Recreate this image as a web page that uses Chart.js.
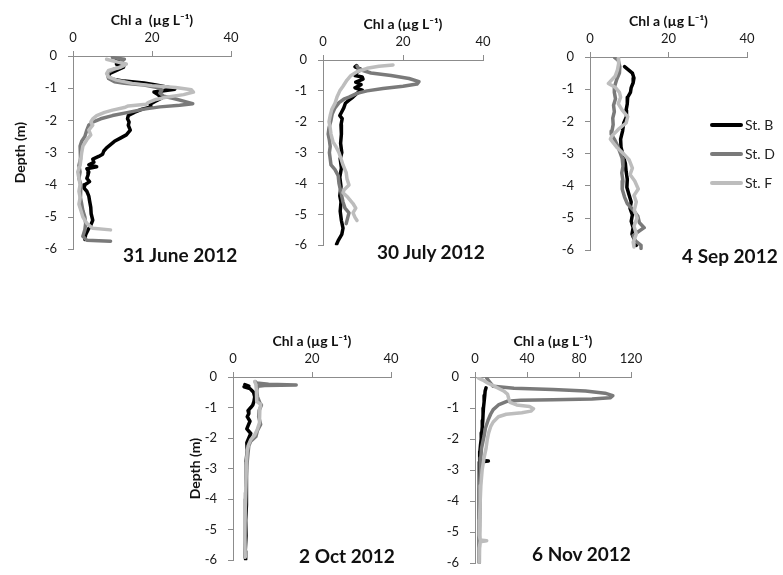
<!DOCTYPE html>
<html lang="en">
<head>
<meta charset="UTF-8">
<title>Chl a depth profiles 2012</title>
<script src="https://cdn.jsdelivr.net/npm/chart.js"></script>
<style>
    body {
        margin: 0;
        background: #fff;
        font-family: Lato, "Open Sans", sans-serif;
    }
    #wrap {
        position: relative;
        width: 783px;
        height: 575px;
        overflow: hidden;
    }
    #wrap canvas {
        position: absolute;
    }
    .date {
        position: absolute;
        font-weight: bold;
        font-size: 19px;
        line-height: 19px;
        color: #111;
        white-space: nowrap;
    }
    .legend {
        position: absolute;
        left: 710px;
        top: 110px;
        font-size: 14px;
        color: #222;
    }
    .legend div {
        height: 29px;
        display: flex;
        align-items: center;
    }
    .legend .ln {
        display: inline-block;
        width: 33px;
        height: 4px;
        border-radius: 2px;
        margin-right: 2px;
    }
</style>
</head>
<body>
<div id="wrap"></div>

<script>
    // stations and their line colours
    const stations = ['St. B', 'St. D', 'St. F'];
    const colors = ['#000000', '#7a7a7a', '#bdbdbd'];

    const depthTicks = [0, -1, -2, -3, -4, -5, -6];

    // 31 June 2012
    const junDepthB = [-0.1, -0.15, -0.25, -0.35, -0.45, -0.55, -0.65, -0.72, -0.78, -0.84, -0.9, -0.97, -1.03, -1.08, -1.12, -1.2, -1.3, -1.4, -1.5, -1.58, -1.65, -1.75, -1.85, -1.95, -2.05, -2.15, -2.3, -2.45, -2.55, -2.65, -2.75, -2.85, -2.95, -3.05, -3.12, -3.2, -3.3, -3.38, -3.44, -3.5, -3.6, -3.7, -3.8, -3.9, -4.0, -4.1, -4.2, -4.35, -4.5, -4.7, -4.9, -5.1, -5.25, -5.4, -5.55, -5.7];
    const junChlB = [11, 12.5, 11, 12.8, 11, 9.2, 9, 10, 13, 18, 21, 24, 25.8, 23, 20.5, 21.5, 22.5, 21, 19.5, 19.8, 17.5, 15.5, 14, 13.8, 14.2, 14, 14.5, 13.5, 12, 10.5, 9.5, 8.5, 7.8, 7.5, 6.5, 5, 5.3, 4, 6, 3.5, 4, 3.8, 3.5, 4.2, 3, 2.8, 3.5, 4, 4.2, 4.5, 4.6, 5, 4.5, 3.8, 3.2, 3];
    const junDepthD = [-0.05, -0.1, -0.2, -0.3, -0.4, -0.5, -0.6, -0.7, -0.8, -0.85, -0.9, -0.97, -1.05, -1.15, -1.25, -1.32, -1.4, -1.48, -1.53, -1.58, -1.65, -1.75, -1.85, -1.95, -2.05, -2.15, -2.3, -2.5, -2.65, -2.8, -3.0, -3.2, -3.4, -3.6, -3.8, -4.0, -4.2, -4.4, -4.6, -4.8, -5.0, -5.2, -5.4, -5.6, -5.72, -5.75];
    const junChlD = [10, 13, 12, 13, 10.5, 9, 8.8, 9, 10.5, 13, 18, 21, 22.5, 22, 23, 25.5, 28, 30.3, 27, 22, 18, 14, 10, 7, 5, 4, 3.5, 3, 2.2, 1.8, 2, 1.8, 1.5, 1.8, 1.5, 2, 1.8, 2, 2.2, 2.5, 3, 3.2, 3, 2.5, 3.5, 9.5];
    const junDepthF = [-0.1, -0.15, -0.25, -0.35, -0.45, -0.55, -0.65, -0.75, -0.85, -0.92, -0.98, -1.05, -1.12, -1.2, -1.27, -1.35, -1.45, -1.5, -1.55, -1.6, -1.68, -1.75, -1.85, -1.95, -2.05, -2.15, -2.3, -2.45, -2.6, -2.8, -3.0, -3.2, -3.4, -3.6, -3.8, -4.0, -4.2, -4.4, -4.6, -4.8, -5.0, -5.2, -5.35, -5.4];
    const junChlF = [8.5, 10, 13.5, 12, 9, 8.5, 9, 11, 15, 20, 26, 30, 30.5, 28, 24, 21, 19, 18.5, 14, 13, 10, 8, 6, 5, 4.5, 5, 4, 4.5, 3.5, 2.5, 2.2, 2, 1.8, 1.2, 1.5, 1.8, 1.5, 1.8, 1.5, 2, 2.5, 3.5, 5, 9.5];

    // 30 July 2012
    const julDepthB = [-0.18, -0.22, -0.3, -0.4, -0.5, -0.55, -0.62, -0.72, -0.8, -0.9, -0.98, -1.08, -1.2, -1.3, -1.4, -1.55, -1.7, -1.8, -1.9, -2.1, -2.4, -2.7, -3.0, -3.2, -3.5, -3.8, -4.1, -4.4, -4.6, -4.9, -5.2, -5.45, -5.65, -5.85, -5.97];
    const julChlB = [8.4, 8, 9.5, 8.5, 8, 9.8, 10, 8.2, 9.5, 8, 9.8, 8.5, 7.5, 6.5, 5.6, 5.2, 4.6, 4.2, 4.8, 4.5, 4.6, 4.4, 4.7, 4.3, 4.6, 4.2, 4.5, 4.2, 4.5, 4.3, 4.6, 5, 4.7, 3.8, 3.4];
    const julDepthD = [-0.2, -0.3, -0.42, -0.5, -0.6, -0.7, -0.78, -0.85, -0.92, -1.0, -1.08, -1.2, -1.27, -1.38, -1.55, -1.75, -1.95, -2.2, -2.4, -2.6, -2.8, -3.0, -3.2, -3.4, -3.55, -3.75, -4.0, -4.3, -4.6, -4.8, -4.95, -5.1, -5.3];
    const julChlD = [8.5, 9, 12, 17, 21.5, 24, 23.5, 20, 15, 11, 8.5, 6.5, 5.2, 4, 3, 2.3, 2, 1.5, 1.3, 1.6, 1.8, 1.6, 1.8, 2, 3, 3.8, 4, 4.5, 5, 5.5, 6.5, 6.2, 5.8];
    const julDepthF = [-0.16, -0.2, -0.27, -0.38, -0.5, -0.65, -0.85, -1.0, -1.2, -1.4, -1.6, -1.8, -2.0, -2.2, -2.4, -2.65, -2.8, -3.0, -3.2, -3.4, -3.65, -3.85, -4.05, -4.2, -4.3, -4.45, -4.65, -4.8, -4.95, -5.1, -5.2];
    const julChlF = [17.5, 14, 11, 8.5, 7, 6, 5, 4.2, 3.5, 3, 2.2, 1.8, 1.5, 1.8, 2, 2.5, 3.2, 4, 4.5, 5, 5.8, 6, 6.5, 5.3, 5, 6.2, 7.5, 8.2, 7.5, 8, 8.5];

    // 4 Sep 2012
    const sepDepthB = [-0.3, -0.4, -0.5, -0.65, -0.8, -0.95, -1.1, -1.25, -1.45, -1.65, -1.85, -2.05, -2.3, -2.55, -2.8, -3.05, -3.3, -3.55, -3.8, -4.05, -4.3, -4.5, -4.7, -4.9, -5.1, -5.3, -5.5, -5.7, -5.85];
    const sepChlB = [8.8, 9.8, 10.8, 11.2, 11, 10.5, 10.3, 9.6, 9.5, 9.2, 9.3, 8.6, 8.3, 7.8, 7.9, 8.4, 9, 9.2, 9.5, 9.4, 10, 10.5, 10.2, 10.8, 10.5, 11, 10.7, 11.4, 11.8];
    const sepDepthD = [-0.02, -0.1, -0.3, -0.5, -0.7, -0.9, -1.1, -1.3, -1.5, -1.7, -1.9, -2.1, -2.3, -2.4, -2.55, -2.75, -2.95, -3.15, -3.4, -3.6, -3.85, -4.1, -4.35, -4.55, -4.75, -4.95, -5.15, -5.3, -5.45, -5.55, -5.7, -5.85, -5.95];
    const sepChlD = [6.3, 7.2, 7.6, 7.5, 6.8, 6.3, 6.2, 6.5, 6, 6.2, 5.8, 5.9, 5.6, 5.4, 6.2, 7, 7.6, 8.2, 8.4, 8.1, 8.4, 8.2, 8.8, 9.5, 11, 12.2, 12.6, 13.8, 12, 11, 11.5, 13, 13];
    const sepDepthF = [-0.05, -0.2, -0.4, -0.6, -0.82, -0.95, -1.1, -1.25, -1.45, -1.65, -1.85, -2.05, -2.25, -2.45, -2.55, -2.8, -3.0, -3.2, -3.45, -3.65, -3.85, -4.1, -4.3, -4.5, -4.75, -5.0, -5.25, -5.5, -5.75, -5.9];
    const sepChlF = [7.2, 7.3, 7, 6.4, 4.7, 6.5, 7.5, 7.8, 7.2, 8.2, 9.6, 9.2, 7.2, 5.6, 5.2, 6.8, 8.5, 10, 10.8, 10.2, 11.4, 12.3, 11.2, 11.8, 11.3, 12, 11.2, 11.8, 11, 11.2];

    // 2 Oct 2012
    const octDepthB = [-0.25, -0.3, -0.32, -0.38, -0.5, -0.65, -0.8, -0.92, -1.0, -1.1, -1.2, -1.3, -1.45, -1.6, -1.7, -1.85, -2.0, -2.15, -2.4, -2.8, -3.2, -3.7, -4.2, -4.7, -5.2, -5.7, -5.98];
    const octChlB = [3, 4, 2.8, 4.3, 5.2, 5.5, 5.3, 5, 4.5, 3.8, 4, 3.6, 4.3, 3.8, 3.5, 4.5, 4, 3.5, 3.6, 3.3, 3.5, 3.3, 3.4, 3.2, 3.3, 3.1, 3.2];
    const octDepthD = [-0.15, -0.2, -0.24, -0.26, -0.28, -0.3, -0.45, -0.65, -0.85, -0.92, -1.1, -1.3, -1.55, -1.75, -1.95, -2.1, -2.25, -2.5, -2.9, -3.4, -4.0, -4.6, -5.2, -5.9];
    const octChlD = [5.6, 6, 9, 16, 8, 6.3, 6, 6.2, 6.8, 7.2, 6.6, 6.5, 7, 6.2, 5.8, 4.5, 4, 3.8, 3.5, 3.3, 3.2, 3.1, 3, 3];
    const octDepthF = [-0.15, -0.25, -0.4, -0.6, -0.8, -0.9, -1.05, -1.25, -1.5, -1.7, -1.9, -2.05, -2.2, -2.4, -2.8, -3.3, -3.8, -4.3, -4.8, -5.3, -5.9];
    const octChlF = [5.5, 5.8, 5.9, 6, 6, 7, 6.8, 6.6, 6.8, 6.2, 5.5, 4.5, 4, 3.6, 3.4, 3.3, 3.2, 3.1, 3, 3, 3.1];

    // 6 Nov 2012
    const novDepthB = [-0.35, -0.45, -0.6, -0.8, -1.0, -1.2, -1.4, -1.6, -1.8, -2.0, -2.2, -2.4, -2.6, -2.68, -2.71, -2.74, -2.8, -3.2, -3.8, -4.4, -5.0, -5.5, -6.0];
    const novChlB = [8.5, 7.8, 7.5, 7, 6.5, 6.2, 6, 5.6, 5.2, 4.8, 4.2, 3.8, 3.6, 3.6, 10.3, 3.6, 3.5, 3.4, 3.3, 3.3, 3.2, 3.2, 3.2];
    const novDepthD = [-0.03, -0.15, -0.3, -0.36, -0.4, -0.45, -0.52, -0.6, -0.67, -0.71, -0.73, -0.75, -0.78, -0.9, -1.05, -1.2, -1.4, -1.65, -1.9, -2.1, -2.3, -2.6, -3.0, -3.6, -4.2, -4.8, -5.4, -6.0];
    const novChlD = [9, 11, 14, 30, 60, 85, 100, 106, 104, 90, 60, 35, 25, 18, 14, 12, 10, 8, 7, 6, 5, 4.5, 4, 3.5, 3.3, 3.2, 3.2, 3.3];
    const novDepthF = [-0.03, -0.1, -0.2, -0.32, -0.45, -0.55, -0.7, -0.82, -0.9, -0.95, -1.02, -1.1, -1.15, -1.2, -1.28, -1.45, -1.6, -1.8, -2.0, -2.3, -2.6, -3.0, -3.5, -4.0, -4.6, -5.1, -5.25, -5.28, -5.31, -5.5, -6.0];
    const novChlF = [2.5, 6, 10, 16, 22, 25, 26, 27, 32, 42, 45, 43, 36, 24, 18, 14, 12, 10.5, 9.5, 8.5, 7, 5.5, 4.5, 4, 3.5, 3.3, 4, 9, 4, 3.3, 3.2];

    // panel placement (plot area in page pixels)
    const Y_W = 70, X_H = 56, PAD_R = 22, PAD_B = 12;
    const axisColor = '#8c8c8c';
    const textColor = '#1a1a1a';

    const panels = [
        { date: '31 June 2012', left: 73, top: 56, right: 231, bottom: 256, xMax: 40, xStep: 20, depthTitle: 8.6, dateX: 123, dateY: 245,
          title: 'Chl a  (µg L⁻¹)', series: [[junDepthB, junChlB], [junDepthD, junChlD], [junDepthF, junChlF]] },
        { date: '30 July 2012', left: 323, top: 60, right: 483, bottom: 252, xMax: 40, xStep: 20, depthTitle: null, dateX: 377, dateY: 242,
          title: 'Chl a (µg L⁻¹)', series: [[julDepthB, julChlB], [julDepthD, julChlD], [julDepthF, julChlF]] },
        { date: '4 Sep 2012', left: 590, top: 57, right: 747, bottom: 257, xMax: 40, xStep: 20, depthTitle: null, dateX: 682, dateY: 246,
          title: 'Chl a (µg L⁻¹)', series: [[sepDepthB, sepChlB], [sepDepthD, sepChlD], [sepDepthF, sepChlF]] },
        { date: '2 Oct 2012', left: 233, top: 377, right: 391, bottom: 567, xMax: 40, xStep: 20, depthTitle: 23.6, dateX: 299, dateY: 546,
          title: 'Chl a (µg L⁻¹)', series: [[octDepthB, octChlB], [octDepthD, octChlD], [octDepthF, octChlF]] },
        { date: '6 Nov 2012', left: 475, top: 377, right: 631, bottom: 570, xMax: 120, xStep: 40, depthTitle: null, dateX: 532, dateY: 544,
          title: 'Chl a (µg L⁻¹)', series: [[novDepthB, novChlB], [novDepthD, novChlD], [novDepthF, novChlF]] }
    ];

    const wrap = document.getElementById('wrap');

    panels.forEach(p => {
        const c = document.createElement('canvas');
        c.width = (p.right - p.left) + Y_W + PAD_R;
        c.height = (p.bottom - p.top) + X_H + PAD_B;
        c.style.left = (p.left - Y_W) + 'px';
        c.style.top = (p.top - X_H) + 'px';
        wrap.appendChild(c);

        const datasets = p.series.map((s, i) => ({
            label: stations[i],
            data: s[0].map((d, k) => ({ x: s[1][k], y: d })),
            showLine: true,
            borderColor: colors[i],
            backgroundColor: colors[i],
            borderWidth: 3.5,
            borderJoinStyle: 'round',
            borderCapStyle: 'round',
            pointRadius: 0,
            tension: 0,
            order: 3 - i
        }));

        new Chart(c, {
            type: 'scatter',
            data: { datasets: datasets },
            options: {
                responsive: false,
                animation: false,
                layout: { padding: { top: 0, left: 0, right: PAD_R, bottom: PAD_B } },
                plugins: { legend: { display: false }, tooltip: { enabled: false } },
                scales: {
                    x: {
                        type: 'linear',
                        position: 'top',
                        min: 0,
                        max: p.xMax,
                        ticks: { stepSize: p.xStep, padding: 5, color: textColor, font: { family: 'Lato', size: 13 } },
                        grid: { drawOnChartArea: false, tickLength: 5, color: axisColor },
                        border: { color: axisColor },
                        title: { display: true, text: p.title, color: '#111', font: { family: 'Lato', size: 14, weight: 'bold' }, padding: { top: 12.5, bottom: 0 } },
                        afterFit: s => { s.height = X_H; }
                    },
                    y: {
                        type: 'linear',
                        min: -6,
                        max: 0,
                        afterBuildTicks: s => { s.ticks = depthTicks.map(v => ({ value: v })); },
                        ticks: { padding: 11, color: textColor, font: { family: 'Lato', size: 13 } },
                        grid: { drawOnChartArea: false, tickLength: 5, color: axisColor },
                        border: { color: axisColor },
                        title: { display: p.depthTitle !== null, text: 'Depth (m)', color: '#111', font: { family: 'Lato', size: 14, weight: 'bold' }, padding: { top: p.depthTitle || 0, bottom: 0 } },
                        afterFit: s => { s.width = Y_W; }
                    }
                }
            }
        });

        const lab = document.createElement('div');
        lab.className = 'date';
        lab.textContent = p.date;
        lab.style.left = p.dateX + 'px';
        lab.style.top = p.dateY + 'px';
        wrap.appendChild(lab);
    });

    // legend beside the 4 Sep panel
    const legend = document.createElement('div');
    legend.className = 'legend';
    stations.forEach((name, i) => {
        const row = document.createElement('div');
        const ln = document.createElement('span');
        ln.className = 'ln';
        ln.style.background = colors[i];
        row.appendChild(ln);
        row.appendChild(document.createTextNode(name));
        legend.appendChild(row);
    });
    wrap.appendChild(legend);
</script>
</body>
</html>
